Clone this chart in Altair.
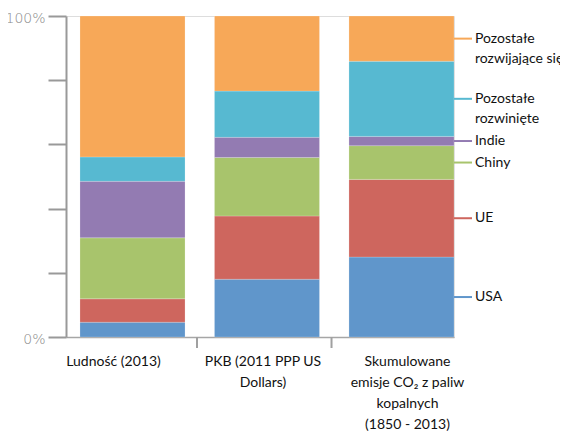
import altair as alt
import pandas as pd

categories = ["Ludność (2013)", "PKB (2011 PPP US|Dollars)",
              "Skumulowane|emisje CO₂ z paliw|kopalnych|(1850 - 2013)"]
regions = ["USA", "UE", "Chiny", "Indie", "Pozostałe rozwinięte", "Pozostałe rozwijające się"]
legend_labels = ["USA", "UE", "Chiny", "Indie", "Pozostałe|rozwinięte", "Pozostałe|rozwijające się"]
colors = ["#6096CB", "#CE665E", "#A8C46C", "#937BB2", "#57B9D1", "#F7A858"]

ludnosc = [4.6, 7.3, 19.0, 17.6, 7.6, 43.9]
pkb = [18.0, 19.7, 18.2, 6.3, 14.4, 23.4]
emisje = [24.9, 24.2, 10.5, 2.9, 23.4, 14.1]
series = [ludnosc, pkb, emisje]

rows = []
for c, vals in zip(categories, series):
    for i, (r, v) in enumerate(zip(regions, vals)):
        rows.append({"cat": c, "region": r, "order": i, "value": v / 100.0,
                     "lab": legend_labels[i]})
df = pd.DataFrame(rows)

last = df[df["cat"] == categories[-1]].copy()
last["mid"] = last["value"].cumsum() - last["value"] / 2

W, H = 388, 321
label_offsets = [-19, -4, 6]

x_scale = alt.Scale(domain=categories, paddingInner=0.219, paddingOuter=0.052, align=1)
y_scale = alt.Scale(domain=[0, 1], nice=False)
color_scale = alt.Scale(domain=regions, range=colors)

x_axis = alt.Axis(
    title=None, ticks=False, labelAngle=0,
    labelExpr="split(datum.label, '|')",
    labelFont="Lato", labelFontSize=14, labelColor="#111111",
    labelLineHeight=21, labelPadding=17, labelBaseline="top",
    labelOffset={"condition": [
        {"test": f"datum.value === '{categories[0]}'", "value": label_offsets[0]},
        {"test": f"datum.value === '{categories[1]}'", "value": label_offsets[1]},
    ], "value": label_offsets[2]},
    domainColor="#a6a6a6", domainWidth=1.5,
)
y_axis = alt.Axis(
    title=None, values=[0, 0.2, 0.4, 0.6, 0.8, 1.0],
    labelExpr="datum.value == 0 || datum.value == 1 ? format(datum.value, '.0%') : ''",
    labelFont="DejaVu Sans", labelFontWeight=200, labelFontSize=14, labelColor="#8a8a8a",
    labelPadding=3, labelOffset=2, tickSize=18, tickWidth=2, tickColor="#999999",
    domainColor="#999999", domainWidth=2, grid=False,
)

base = alt.Chart(df)

bars = base.mark_bar(stroke="white", strokeWidth=0.5, strokeOpacity=0.4).encode(
    x=alt.X("cat:N", scale=x_scale, axis=x_axis, sort=categories),
    y=alt.Y("value:Q", stack="zero", scale=y_scale, axis=y_axis),
    color=alt.Color("region:N", scale=color_scale, legend=None),
    order=alt.Order("order:Q", sort="ascending"),
)

dividers = alt.Chart(pd.DataFrame({"cat": categories[:-1]})).mark_rule(
    color="#a0a0a0", strokeWidth=2, xOffset=12
).encode(
    x=alt.X("cat:N", scale=x_scale, bandPosition=1, sort=categories),
    y=alt.value(H), y2=alt.value(H + 11),
)

leaders = alt.Chart(last).mark_rule(strokeWidth=2).encode(
    x=alt.value(W), x2=alt.value(W + 18),
    y=alt.Y("mid:Q", scale=y_scale),
    color=alt.Color("region:N", scale=color_scale, legend=None),
)

texts = alt.Chart(last).transform_calculate(
    lines="split(datum.lab, '|')"
).mark_text(
    align="left", baseline="alphabetic", dy=4, font="Lato", fontSize=14,
    color="#111111", lineHeight=20
).encode(
    x=alt.value(W + 21),
    y=alt.Y("mid:Q", scale=y_scale),
    text="lines:N",
)

chart = alt.layer(bars, dividers, leaders, texts).properties(
    width=W, height=H,
    autosize=alt.AutoSizeParams(type="none"),
    padding={"left": 58, "top": 8, "right": 106, "bottom": 94},
).configure_view(stroke=None).configure(background="white")

chart.save("out.html", embed_options={"renderer": "svg", "actions": False})
